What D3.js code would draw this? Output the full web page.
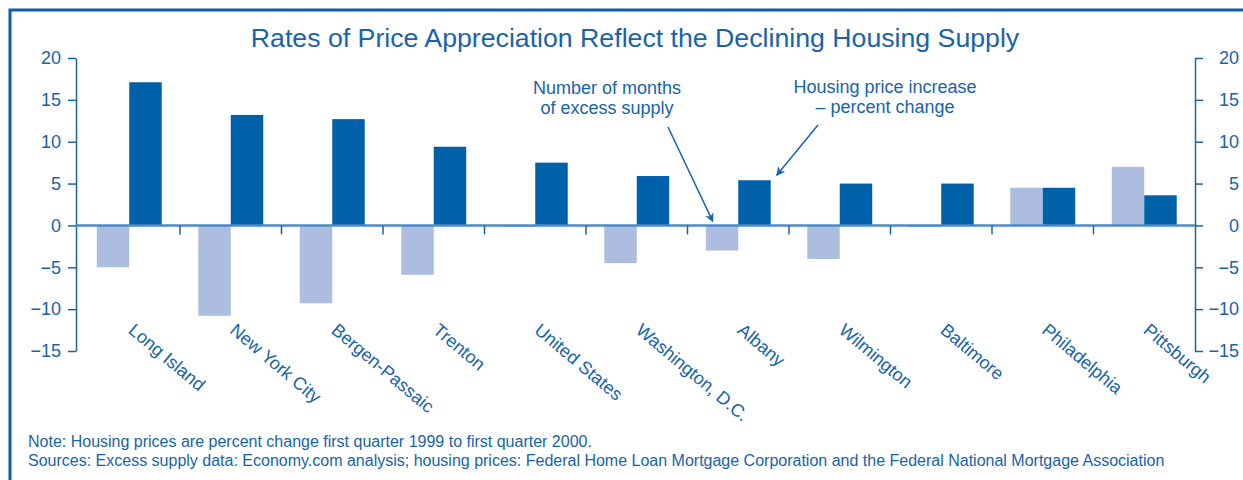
<!DOCTYPE html>
<html>
<head>
<meta charset="utf-8">
<script src="https://cdn.jsdelivr.net/npm/d3@7"></script>
<style>
  body { margin: 0; background: #fff; }
  svg text { font-family: "Liberation Sans", Arial, Helvetica, sans-serif; fill: #1763ad; }
</style>
</head>
<body>
<div class="chart"></div>
<script>
const cities = ['Long Island', 'New York City', 'Bergen-Passaic', 'Trenton', 'United States',
  'Washington, D.C.', 'Albany', 'Wilmington', 'Baltimore', 'Philadelphia', 'Pittsburgh']
// number of months of excess supply
const excessSupply = [-5.0, -10.8, -9.3, -5.9, -0.2, -4.5, -3.0, -4.0, -0.2, 4.5, 7.0]
// housing price increase, percent change
const priceIncrease = [17.1, 13.2, 12.7, 9.4, 7.5, 5.9, 5.4, 5.0, 5.0, 4.5, 3.6]
const yTicks = [-15, -10, -5, 0, 5, 10, 15, 20]

const width = 1243
const height = 480
const dark = '#0061ab'
const light = '#adbddf'
const lineBlue = '#1763ad'

const svg = d3.select('.chart')
  .append('svg')
  .attr('width', width)
  .attr('height', height)

// frame (top and left edges only)
svg.append('path')
  .attr('d', 'M10,' + height + ' V10 H' + width)
  .attr('fill', 'none')
  .attr('stroke', '#0c5ea8')
  .attr('stroke-width', 3)

svg.append('text')
  .attr('x', 635)
  .attr('y', 47)
  .attr('text-anchor', 'middle')
  .style('font-size', '26.7px')
  .text('Rates of Price Appreciation Reflect the Declining Housing Supply')

const x = d3.scaleBand().domain(cities).range([78.5, 1195])
const y = d3.scaleLinear().domain([-15, 20]).range([351, 58])
const bw = x.bandwidth() * 0.32

const fmt = d3.format('')

// left axis
const left = svg.append('g')
  .attr('transform', 'translate(76,0)')
  .call(d3.axisLeft(y).tickValues(yTicks).tickSize(8).tickSizeOuter(0).tickFormat(fmt))
// right axis
const right = svg.append('g')
  .attr('transform', 'translate(1195,0)')
  .call(d3.axisRight(y).tickValues(yTicks).tickSize(8).tickSizeOuter(0).tickFormat(fmt))
right.selectAll('.tick text').attr('text-anchor', 'end').attr('x', 44)
left.selectAll('.tick text').attr('x', -15)

;[left, right].forEach((g) => {
  g.selectAll('path, line').attr('stroke', lineBlue).attr('stroke-width', 1.5)
  g.selectAll('text')
    .style('font-size', '18px')
    .style('font-family', '"Liberation Sans", Arial, sans-serif')
    .attr('fill', lineBlue)
})

// bars
const groups = svg.append('g')
  .selectAll('g')
  .data(cities)
  .enter()
  .append('g')

groups.append('rect')
  .attr('x', (d) => x(d) + x.bandwidth() / 2 - bw)
  .attr('width', bw)
  .attr('y', (d, i) => y(Math.max(0, excessSupply[i])))
  .attr('height', (d, i) => Math.abs(y(excessSupply[i]) - y(0)))
  .attr('fill', light)

groups.append('rect')
  .attr('x', (d) => x(d) + x.bandwidth() / 2)
  .attr('width', bw)
  .attr('y', (d, i) => y(Math.max(0, priceIncrease[i])))
  .attr('height', (d, i) => Math.abs(y(priceIncrease[i]) - y(0)))
  .attr('fill', dark)

// zero line and category ticks
svg.append('line')
  .attr('x1', 76)
  .attr('x2', 1195)
  .attr('y1', y(0))
  .attr('y2', y(0))
  .attr('stroke', '#4e8bc5')
  .attr('stroke-width', 2.5)

svg.append('g')
  .selectAll('line')
  .data(cities.slice(1))
  .enter()
  .append('line')
  .attr('x1', (d) => x(d))
  .attr('x2', (d) => x(d))
  .attr('y1', y(0))
  .attr('y2', y(0) + 9)
  .attr('stroke', lineBlue)
  .attr('stroke-width', 1.5)

// category labels
svg.append('g')
  .selectAll('text')
  .data(cities)
  .enter()
  .append('text')
  .attr('transform', (d) => 'translate(' + (x(d) + x.bandwidth() / 2 - 2) + ',' + 332 + ') rotate(40)')
  .style('font-size', '18px')
  .text((d) => d)

// annotations
const defs = svg.append('defs')
defs.append('marker')
  .attr('id', 'arrow')
  .attr('viewBox', '0 0 10 10')
  .attr('refX', 9)
  .attr('refY', 5)
  .attr('markerWidth', 9)
  .attr('markerHeight', 9)
  .attr('markerUnits', 'userSpaceOnUse')
  .attr('orient', 'auto')
  .append('path')
  .attr('d', 'M0,0 L10,5 L0,10 L3,5 Z')
  .attr('fill', lineBlue)

const ai = cities.indexOf('Albany')
const albanyX = x(cities[ai]) + x.bandwidth() / 2

svg.append('line')
  .attr('x1', 668).attr('y1', 127)
  .attr('x2', albanyX - bw + 7).attr('y2', y(0) - 4)
  .attr('stroke', lineBlue)
  .attr('stroke-width', 1.5)
  .attr('marker-end', 'url(#arrow)')

svg.append('line')
  .attr('x1', 818).attr('y1', 125)
  .attr('x2', albanyX + bw + 6).attr('y2', y(priceIncrease[ai]) - 5)
  .attr('stroke', lineBlue)
  .attr('stroke-width', 1.5)
  .attr('marker-end', 'url(#arrow)')

const notes1 = ['Number of months', 'of excess supply']
const notes2 = ['Housing price increase', '\u2013 percent change']
svg.append('g').selectAll('text').data(notes1).enter().append('text')
  .attr('x', 607).attr('y', (d, i) => 94 + i * 20)
  .attr('text-anchor', 'middle').style('font-size', '18px').text((d) => d)
svg.append('g').selectAll('text').data(notes2).enter().append('text')
  .attr('x', 885).attr('y', (d, i) => 93 + i * 20)
  .attr('text-anchor', 'middle').style('font-size', '18px').text((d) => d)

const footer = [
  'Note: Housing prices are percent change first quarter 1999 to first quarter 2000.',
  'Sources: Excess supply data: Economy.com analysis; housing prices: Federal Home Loan Mortgage Corporation and the Federal National Mortgage Association'
]
svg.append('g').selectAll('text').data(footer).enter().append('text')
  .attr('x', 28).attr('y', (d, i) => 447 + i * 19)
  .style('font-size', '16px').text((d) => d)
</script>
</body>
</html>
